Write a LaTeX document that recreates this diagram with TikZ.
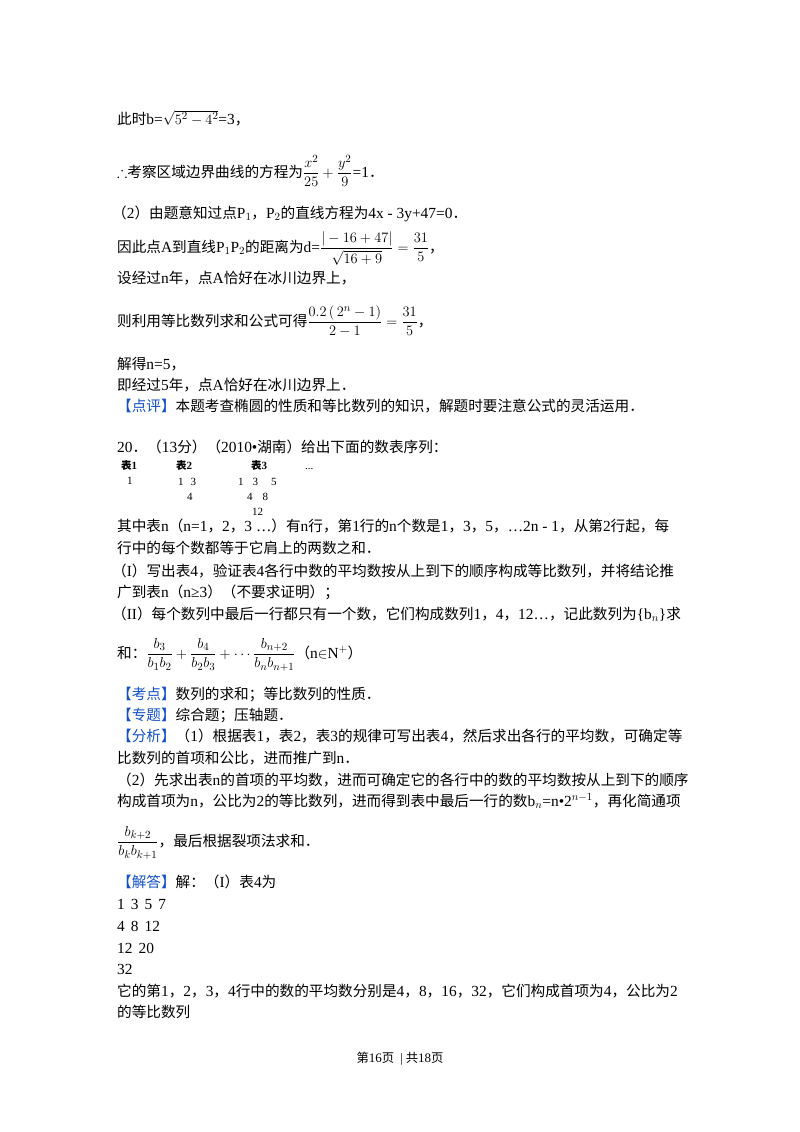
\documentclass[tikz,border=0pt]{standalone}
\usepackage{amsmath,amssymb}
\usepackage{fontspec}
\setmainfont{Liberation Serif}
\newfontfamily\cjk{Noto Sans CJK SC}[Scale=0.95]
\XeTeXinterchartokenstate=1
\newXeTeXintercharclass\CJKcls
\count255="4E00 \loop \XeTeXcharclass\count255=\CJKcls \advance\count255 1 \ifnum\count255<"A000 \repeat
\count255="3000 \loop \XeTeXcharclass\count255=\CJKcls \advance\count255 1 \ifnum\count255<"3040 \repeat
\count255="FF00 \loop \XeTeXcharclass\count255=\CJKcls \advance\count255 1 \ifnum\count255<"FFF0 \repeat
\XeTeXinterchartoks 0 \CJKcls = {\cjk}
\XeTeXinterchartoks 4095 \CJKcls = {\cjk}
\XeTeXinterchartoks \CJKcls 0 = {\rmfamily}
\XeTeXinterchartoks \CJKcls 4095 = {\rmfamily}
\definecolor{tagblue}{RGB}{20,80,200}
\tikzset{txt/.style={anchor=base west,inner sep=0pt,font=\fontsize{15.4}{17}\selectfont},
 small/.style={anchor=base west,inner sep=0pt,font=\fontsize{11}{13}\selectfont}}
\begin{document}
\begin{tikzpicture}[x=1pt,y=-1pt]
\fill[white] (0,0) rectangle (800,1132);
\useasboundingbox (0,0) rectangle (800,1132);
\node[txt] (l1) at (117,124) {此时b=$\sqrt{5^{2}-4^{2}}$=3，};
\node[txt] (l2) at (117,177) {$\therefore$考察区域边界曲线的方程为$\dfrac{x^2}{25}+\dfrac{y^2}{9}$=1．};
\node[txt] (l3) at (112,218) {（2）由题意知过点P$_1$，P$_2$的直线方程为4x - 3y+47=0．};
\node[txt] (l4) at (117,252) {因此点A到直线P$_1$P$_2$的距离为d=$\dfrac{|-16+47|}{\sqrt{16+9}}=\dfrac{31}{5}$，};
\node[txt] (l5) at (117,283) {设经过n年，点A恰好在冰川边界上，};
\node[txt] (l6) at (117,326) {则利用等比数列求和公式可得$\dfrac{0.2\,(\,2^{n}-1)}{2-1}=\dfrac{31}{5}$，};
\node[txt] (l7) at (117,369) {解得n=5，};
\node[txt] (l8) at (117,390) {即经过5年，点A恰好在冰川边界上．};
\node[txt] (l9) at (117,411) {\textcolor{tagblue}{【点评】}本题考查椭圆的性质和等比数列的知识，解题时要注意公式的灵活运用．};
\node[txt] (q) at (117,452) {20．（13分）（2010•湖南）给出下面的数表序列：};
\node[small] (t1) at (121,469) {\textbf{表1}};
\node[small] (t2) at (176,469) {\textbf{表2}};
\node[small] (t3) at (251,469) {\textbf{表3}};
\node[small] (t4) at (305,469) {...};
\node[small] (a1) at (127,484) {1};
\node[small] (b1) at (178,485) {1\hspace{7pt}3};
\node[small] (b2) at (187,500) {4};
\node[small] (c1) at (238,485) {1\hspace{9pt}3\hspace{13pt}5};
\node[small] (c2) at (247,500) {4\hspace{10pt}8};
\node[small] (c3) at (252,515) {12};
\node[txt] (p1) at (117,531) {其中表n（n=1，2，3 …）有n行，第1行的n个数是1，3，5，…2n - 1，从第2行起，每};
\node[txt] (p2) at (117,553) {行中的每个数都等于它肩上的两数之和．};
\node[txt] (p3) at (112,576) {（I）写出表4，验证表4各行中数的平均数按从上到下的顺序构成等比数列，并将结论推};
\node[txt] (p4) at (117,597) {广到表n（n≥3）（不要求证明）；};
\node[txt] (p5) at (112,619) {（II）每个数列中最后一行都只有一个数，它们构成数列1，4，12…，记此数列为\{b$_n$\}求};
\node[txt] (p6) at (117,658) {和：$\dfrac{b_3}{b_1b_2}+\dfrac{b_4}{b_2b_3}+\cdots\dfrac{b_{n+2}}{b_nb_{n+1}}$（n$\in$N$^+$）};
\node[txt] (k1) at (117,699) {\textcolor{tagblue}{【考点】}数列的求和；等比数列的性质．};
\node[txt] (k2) at (117,720) {\textcolor{tagblue}{【专题】}综合题；压轴题．};
\node[txt] (k3) at (117,741) {\textcolor{tagblue}{【分析】}（1）根据表1，表2，表3的规律可写出表4，然后求出各行的平均数，可确定等};
\node[txt] (k4) at (117,763) {比数列的首项和公比，进而推广到n．};
\node[txt] (k5) at (117,785) {（2）先求出表n的首项的平均数，进而可确定它的各行中的数的平均数按从上到下的顺序};
\node[txt] (k6) at (117,806) {构成首项为n，公比为2的等比数列，进而得到表中最后一行的数b$_n$=n•2$^{n-1}$，再化简通项};
\node[txt] (k7) at (117,846) {$\dfrac{b_{k+2}}{b_kb_{k+1}}$，最后根据裂项法求和．};
\node[txt] (s1) at (117,887) {\textcolor{tagblue}{【解答】}解：（I）表4为};
\node[txt] (s2) at (117,909) {1\hspace{6pt}3\hspace{6pt}5\hspace{6pt}7};
\node[txt] (s3) at (117,931) {4\hspace{6pt}8\hspace{6pt}12};
\node[txt] (s4) at (117,953) {12\hspace{6pt}20};
\node[txt] (s5) at (117,974) {32};
\node[txt] (s6) at (117,996) {它的第1，2，3，4行中的数的平均数分别是4，8，16，32，它们构成首项为4，公比为2};
\node[txt] (s7) at (117,1017) {的等比数列};
\node[anchor=base,inner sep=0pt,font=\fontsize{13}{14}\selectfont] (ft) at (400,1062) {第16页\hspace{6pt}|\hspace{3pt}共18页};
\end{tikzpicture}
\end{document}
